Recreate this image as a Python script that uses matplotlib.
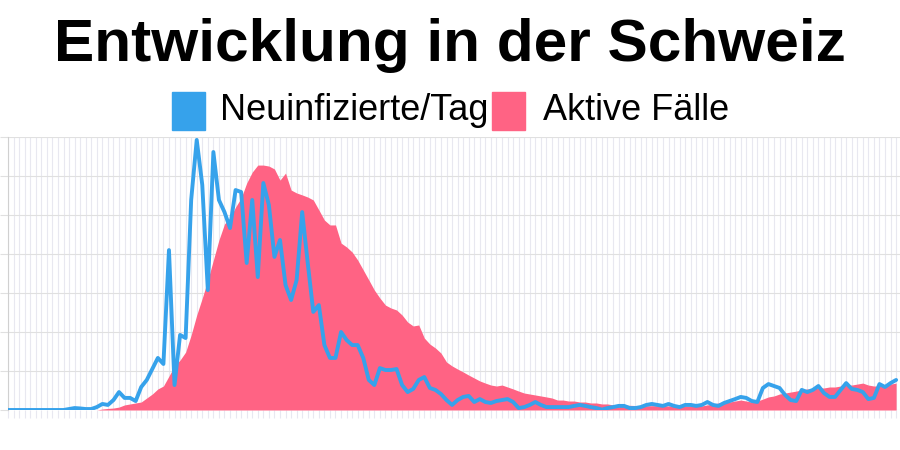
import numpy as np
import matplotlib
matplotlib.use("Agg")
import matplotlib.pyplot as plt
from matplotlib.patches import Rectangle

plt.rcParams['font.family'] = ['Liberation Sans', 'DejaVu Sans']

# Neuinfizierte pro Tag (eine Zahl pro Tag)
neu = [0, 0, 0, 0, 0, 0, 0, 0, 0, 0, 0, 5, 10, 8, 5, 5, 15, 31, 26, 51,
       92, 62, 62, 46, 118, 154, 210, 267, 236, 820, 128, 385, 369, 1077, 1385, 1154, 615, 1323, 1077, 1015,
       933, 1128, 1118, 754, 1077, 682, 1164, 1051, 785, 872, 641, 564, 667, 1015, 754, 503, 538, 333, 267, 267,
       400, 359, 333, 333, 267, 154, 128, 215, 205, 205, 210, 128, 92, 108, 154, 169, 113, 103, 82, 51,
       26, 51, 67, 72, 41, 56, 41, 36, 46, 51, 56, 41, 10, 15, 26, 41, 26, 15, 15, 15,
       15, 15, 21, 26, 21, 15, 10, 2, 10, 15, 21, 21, 10, 10, 15, 26, 31, 26, 21, 31,
       21, 15, 26, 26, 21, 26, 41, 26, 21, 36, 46, 56, 67, 62, 46, 41, 113, 133, 123, 113,
       77, 51, 46, 103, 92, 103, 123, 87, 67, 67, 103, 138, 108, 103, 92, 56, 62, 133, 118, 138,
       154]

# Aktive Faelle
aktiv = [0, 0, 0, 0, 0, 0, 0, 0, 0, 0, 0, 0, 0, 0, 0, 0, 0, 50, 80, 100,
         150, 260, 310, 360, 410, 615, 820, 1080, 1230, 1740, 2260, 2560, 2970, 3850, 4870, 5740, 6670, 7690, 8720, 9540,
         9850, 10410, 10870, 11640, 12200, 12560, 12560, 12510, 12360, 11790, 12150, 11280, 11130, 11030, 10920, 10770, 10260, 9740, 9490, 9490,
         8560, 8360, 8100, 7690, 7180, 6670, 6150, 5740, 5380, 5230, 5130, 4870, 4510, 4310, 4360, 3690, 3380, 3180, 2920, 2460,
         2260, 2100, 1950, 1790, 1640, 1490, 1380, 1280, 1230, 1280, 1180, 1080, 970, 870, 820, 770, 720, 670, 615, 510,
         510, 460, 460, 410, 410, 360, 360, 310, 310, 260, 260, 250, 240, 230, 220, 220, 220, 220, 220, 210,
         210, 210, 210, 210, 210, 210, 260, 310, 360, 410, 410, 460, 510, 460, 410, 460, 560, 670, 720, 820,
         870, 920, 970, 1030, 1080, 1080, 1130, 1130, 1180, 1180, 1230, 1280, 1280, 1330, 1380, 1280, 1230, 1230, 1280, 1330,
         1380]

tage = np.arange(len(neu))

blau = "#36a2eb"
rosa = "#ff6384"

fig = plt.figure(figsize=(9, 4.5), dpi=100)
ax = fig.add_axes([8 / 900, 40 / 450, 892 / 900, 273 / 450])

ax.fill_between(tage, aktiv, 0, color=rosa, linewidth=0, zorder=2)
ax.set_xlim(0, 160.7)
ax.set_ylim(0, 14000)
ax.set_xticks(tage)
ax.set_yticks(np.arange(0, 14001, 2000))
ax.set_xticklabels([])
ax.set_yticklabels([])
ax.grid(True, axis='x', color="#e8e8f0", linewidth=0.8)
ax.grid(True, axis='y', color="#e0e0e0", linewidth=0.8)
ax.set_axisbelow(True)
ax.tick_params(axis='x', length=6, color="#e8e8f0", width=0.8)
ax.tick_params(axis='y', length=6, color="#e0e0e0", width=0.8)
for s in ["top", "right", "bottom"]:
    ax.spines[s].set_visible(False)
ax.spines["left"].set_color("#d0d0d0")

ax2 = ax.twinx()
ax2.plot(tage, neu, color=blau, linewidth=2.8, solid_joinstyle="round",
         solid_capstyle="round", zorder=3)
ax2.set_ylim(0, 1400)
ax2.set_xlim(0, 160.7)
ax2.axis("off")

fig.text(0.5, 1 - 61 / 450, "Entwicklung in der Schweiz", ha="center", va="baseline",
         fontsize=43.5, fontweight="bold")

# Legende
fig.patches.append(Rectangle((172 / 900, 1 - 130 / 450), 33 / 900, 38 / 450,
                             transform=fig.transFigure, color=blau))
fig.text(220 / 900, 1 - 111 / 450, "Neuinfizierte/Tag", ha="left", va="center", fontsize=26)
fig.patches.append(Rectangle((492 / 900, 1 - 130 / 450), 33 / 900, 38 / 450,
                             transform=fig.transFigure, color=rosa))
fig.text(543 / 900, 1 - 111 / 450, "Aktive Fälle", ha="left", va="center", fontsize=26)

fig.savefig("out.png", dpi=100)
